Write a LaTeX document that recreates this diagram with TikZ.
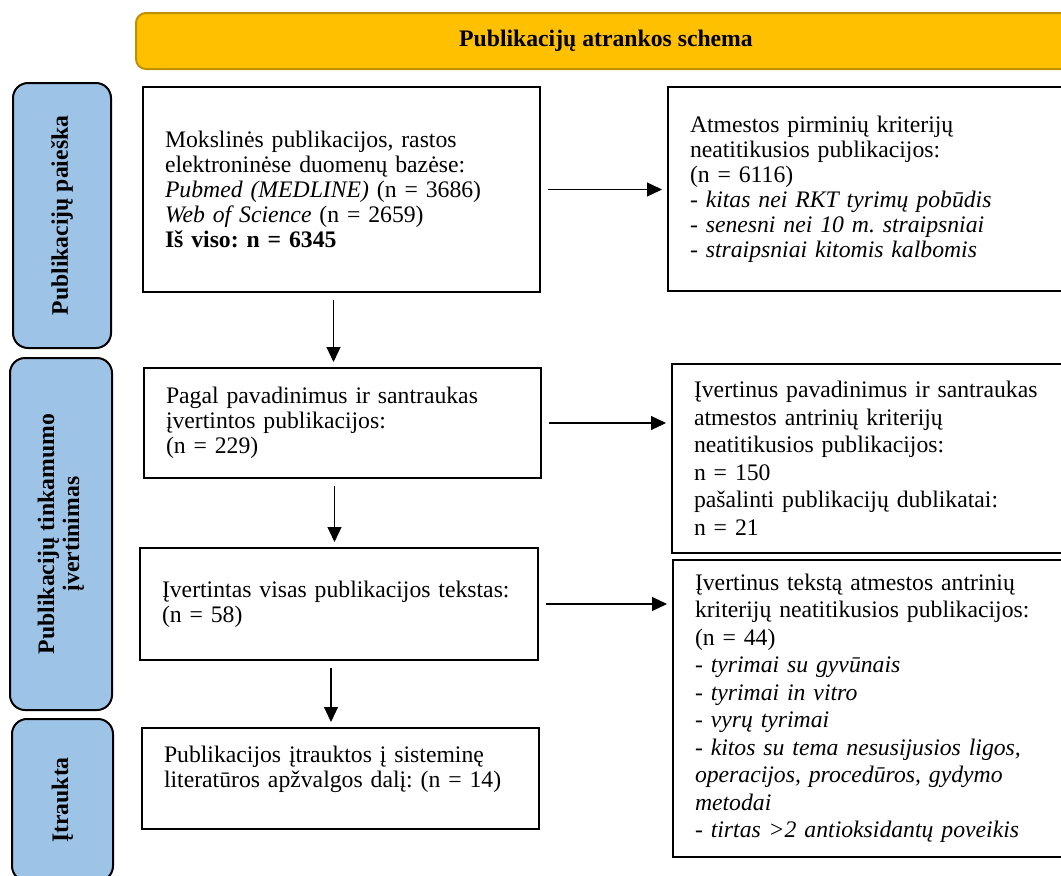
\documentclass[tikz,border=0pt]{standalone}
\usepackage{fontspec}
\setmainfont{Liberation Serif}
\usetikzlibrary{arrows.meta}
\frenchspacing
\definecolor{antraste}{HTML}{FFC000}
\definecolor{antrastekrastas}{HTML}{BF9000}
\definecolor{etapas}{HTML}{9DC3E6}
\tikzset{
  langas/.style={draw, line width=2pt, anchor=north west, align=left, inner xsep=22pt, inner ysep=0pt, font=\fontsize{23.7}{25}\selectfont},
  platus/.style={font=\fontsize{23.7}{27.5}\selectfont},
  etapolangas/.style={draw, line width=2pt, fill=etapas, rounded corners=15pt, rotate=90, align=center, inner sep=0pt, font=\bfseries\fontsize{23.7}{25}\selectfont},
  rodykle/.style={-{Triangle[length=15pt,width=14pt]}, line width=1.1pt, shorten <=7pt, shorten >=5pt}
}
\begin{document}
\begin{tikzpicture}[x=1pt,y=-1pt]
  \useasboundingbox (0,0) rectangle (1061,876);
  \clip (0,0) rectangle (1061,876);
  % antraste
  \node[draw=antrastekrastas, fill=antraste, line width=2pt, rounded corners=10pt, anchor=north west, minimum width=940pt, minimum height=56pt, font=\bfseries\fontsize{23.7}{25}\selectfont] (schema) at (135,12) {Publikacijų atrankos schema};
  % etapai kaireje
  \node[etapolangas, minimum width=265pt, minimum height=98pt] (etapas1) at (62,215.5) {Publikacijų paieška};
  \node[etapolangas, minimum width=352pt, minimum height=102pt] (etapas2) at (61,534) {Publikacijų tinkamumo\\ įvertinimas};
  \node[etapolangas, minimum width=162pt, minimum height=101pt] (etapas3) at (62.5,800) {Įtraukta};
  % kairysis stulpelis
  \node[langas, text width=353pt, minimum height=205pt] (rastos) at (142,86) {Mokslinės publikacijos, rastos\\ elektroninėse duomenų bazėse:\\ \textit{Pubmed (MEDLINE)} (n = 3686)\\ \textit{Web of Science} (n = 2659)\\ \textbf{Iš viso: n = 6345}};
  \node[langas, text width=353pt, minimum height=110pt] (santraukos) at (143,367) {Pagal pavadinimus ir santraukas\\ įvertintos publikacijos:\\ (n = 229)};
  \node[langas, text width=354pt, minimum height=112pt] (tekstas) at (139,547) {Įvertintas visas publikacijos tekstas:\\ (n = 58)};
  \node[langas, text width=353pt, minimum height=101pt, text depth=49pt] (itrauktos) at (141,727) {Publikacijos įtrauktos į sisteminę\\ literatūros apžvalgos dalį: (n = 14)};
  % desinysis stulpelis
  \node[langas, text width=364pt, minimum height=204pt] (atmestos1) at (667,86) {Atmestos pirminių kriterijų\\ neatitikusios publikacijos:\\ (n = 6116)\\ \textit{- kitas nei RKT tyrimų pobūdis}\\ \textit{- senesni nei 10 m. straipsniai}\\ \textit{- straipsniai kitomis kalbomis}};
  \node[langas, platus, text width=360pt, minimum height=189pt] (atmestos2) at (671,363) {Įvertinus pavadinimus ir santraukas\\ atmestos antrinių kriterijų\\ neatitikusios publikacijos:\\ n = 150\\ pašalinti publikacijų dublikatai:\\ n = 21};
  \node[langas, platus, text width=359pt, minimum height=297pt] (atmestos3) at (672,559) {Įvertinus tekstą atmestos antrinių\\ kriterijų neatitikusios publikacijos:\\ (n = 44)\\ \textit{- tyrimai su gyvūnais}\\ \textit{- tyrimai in vitro}\\ \textit{- vyrų tyrimai}\\ \textit{- kitos su tema nesusijusios ligos,}\\ \textit{operacijos, procedūros, gydymo}\\ \textit{metodai}\\ \textit{- tirtas >2 antioksidantų poveikis}};
  % rodykles
  \draw[rodykle] (rastos.east) -- (rastos.east -| atmestos1.west);
  \draw[rodykle] (santraukos.east) -- (santraukos.east -| atmestos2.west);
  \draw[rodykle] (tekstas.east) -- (tekstas.east -| atmestos3.west);
  \draw[rodykle] ([xshift=-8pt]rastos.south) -- ([xshift=-8pt]rastos.south |- santraukos.north);
  \draw[rodykle] ([xshift=-8pt]santraukos.south) -- ([xshift=-8pt]santraukos.south |- tekstas.north);
  \draw[rodykle] ([xshift=-8pt]tekstas.south) -- ([xshift=-8pt]tekstas.south |- itrauktos.north);
\end{tikzpicture}
\end{document}
